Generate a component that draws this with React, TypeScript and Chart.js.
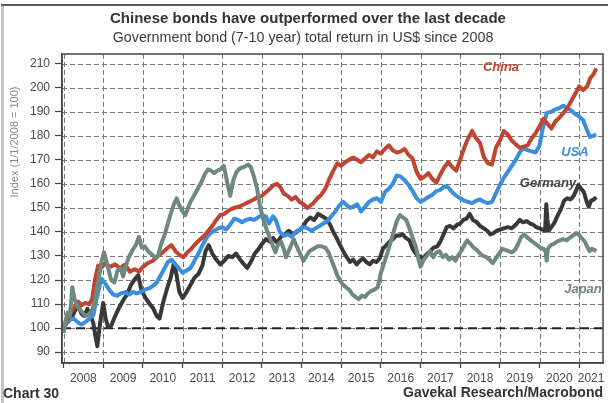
import { useEffect, useRef } from 'react';
import { Chart, registerables } from 'chart.js';

Chart.register(...registerables);

const W = 608;
const H = 403;

const yTicks = [90, 100, 110, 120, 130, 140, 150, 160, 170, 180, 190, 200, 210];
const yearTicks = [2008, 2009, 2010, 2011, 2012, 2013, 2014, 2015, 2016, 2017, 2018, 2019, 2020, 2021];
const yearLabelPos = [2008.5, 2009.5, 2010.5, 2011.5, 2012.5, 2013.5, 2014.5, 2015.5, 2016.5, 2017.5, 2018.5, 2019.5, 2020.5, 2021.3];

const baselinePoints: [number, number][] = [[2007.96, 100], [2021.6, 100]];

const chinaPoints: [number, number][] = [
  [2008.0, 100], [2008.08, 103], [2008.15, 106], [2008.25, 108], [2008.37, 111], [2008.45, 109.5], [2008.55, 110.5],
  [2008.65, 110], [2008.72, 112], [2008.79, 120], [2008.87, 126], [2008.95, 125], [2009.05, 127], [2009.17, 125.5],
  [2009.3, 126.5], [2009.42, 125], [2009.55, 126.5], [2009.67, 123.5], [2009.8, 124.5], [2009.9, 123.5], [2010.0, 125.5],
  [2010.12, 127], [2010.25, 128], [2010.38, 130], [2010.5, 131.5], [2010.6, 133], [2010.72, 134.5], [2010.82, 132],
  [2010.92, 130.5], [2011.02, 129.5], [2011.12, 131.5], [2011.22, 133], [2011.35, 135.5], [2011.45, 137], [2011.55, 138.5],
  [2011.65, 140.5], [2011.75, 142.5], [2011.85, 145], [2011.95, 147], [2012.05, 147.5], [2012.17, 149], [2012.3, 150],
  [2012.42, 150.5], [2012.55, 151.5], [2012.67, 152.5], [2012.8, 153.5], [2012.9, 154.5], [2013.0, 155], [2013.1, 156.5],
  [2013.2, 158], [2013.3, 159.5], [2013.38, 160], [2013.47, 158.5], [2013.55, 156], [2013.65, 155], [2013.75, 153.5],
  [2013.85, 154.5], [2013.95, 152.5], [2014.05, 151.5], [2014.15, 150], [2014.22, 151], [2014.3, 152], [2014.4, 154],
  [2014.5, 155.5], [2014.6, 158], [2014.7, 162], [2014.8, 165.5], [2014.9, 168.5], [2015.0, 167.5], [2015.1, 169],
  [2015.2, 170], [2015.3, 171], [2015.4, 170], [2015.5, 169], [2015.6, 170.5], [2015.7, 172], [2015.8, 171],
  [2015.9, 173.5], [2016.0, 172.5], [2016.1, 174.5], [2016.2, 176], [2016.3, 174], [2016.4, 173], [2016.5, 173.5],
  [2016.6, 174.5], [2016.7, 172], [2016.8, 170.5], [2016.9, 165], [2017.0, 162], [2017.1, 163], [2017.2, 164.5],
  [2017.3, 162], [2017.4, 160.5], [2017.5, 164], [2017.6, 167], [2017.7, 169], [2017.8, 167], [2017.9, 165.5],
  [2018.0, 170], [2018.1, 175], [2018.2, 179], [2018.3, 182], [2018.4, 179], [2018.5, 177], [2018.6, 171],
  [2018.7, 168.5], [2018.8, 168], [2018.9, 175], [2019.0, 178], [2019.1, 182], [2019.2, 180.5], [2019.3, 178],
  [2019.4, 176.5], [2019.5, 175], [2019.6, 175.5], [2019.7, 176], [2019.8, 179], [2019.9, 181], [2020.0, 184],
  [2020.1, 187], [2020.2, 185], [2020.3, 183], [2020.4, 186], [2020.5, 187.5], [2020.6, 189.5], [2020.7, 191.5],
  [2020.8, 194.5], [2020.9, 197.5], [2021.0, 200.5], [2021.1, 199], [2021.2, 200.5], [2021.28, 204], [2021.36, 205.5],
  [2021.43, 208],
];

const usaPoints: [number, number][] = [
  [2008.0, 100], [2008.08, 102], [2008.17, 103.5], [2008.25, 104], [2008.35, 102.5], [2008.45, 101.5], [2008.55, 102.5],
  [2008.65, 104], [2008.75, 105.5], [2008.83, 112], [2008.9, 117], [2008.96, 120.5], [2009.05, 118.5], [2009.15, 116],
  [2009.25, 114], [2009.35, 113.5], [2009.45, 114.5], [2009.55, 115], [2009.65, 114], [2009.75, 115], [2009.85, 114.5],
  [2009.95, 115], [2010.05, 116], [2010.15, 116.5], [2010.25, 117.5], [2010.35, 119], [2010.45, 122], [2010.55, 125],
  [2010.63, 127.5], [2010.72, 128.5], [2010.8, 127], [2010.9, 125], [2011.0, 123], [2011.1, 124], [2011.2, 125],
  [2011.3, 128], [2011.4, 131], [2011.5, 134.5], [2011.6, 137.5], [2011.7, 139.5], [2011.8, 140.5], [2011.9, 141.5],
  [2012.0, 142], [2012.1, 141], [2012.2, 143], [2012.3, 145.5], [2012.4, 145], [2012.5, 144], [2012.6, 145],
  [2012.7, 145.5], [2012.8, 145], [2012.9, 146], [2013.0, 147], [2013.1, 146.5], [2013.18, 143.5], [2013.28, 146.5],
  [2013.35, 145], [2013.45, 140], [2013.55, 138.5], [2013.65, 139], [2013.75, 138], [2013.85, 140], [2013.95, 141],
  [2014.05, 142], [2014.15, 141.5], [2014.25, 140.5], [2014.35, 141.5], [2014.45, 142.5], [2014.55, 143.5], [2014.65, 144.5],
  [2014.75, 146.5], [2014.85, 148.5], [2014.95, 151], [2015.05, 152.5], [2015.15, 151], [2015.22, 150], [2015.3, 150.5],
  [2015.4, 151.5], [2015.5, 148.5], [2015.6, 150.5], [2015.7, 152.5], [2015.8, 153.5], [2015.9, 154], [2016.0, 152.5],
  [2016.1, 156.5], [2016.2, 158], [2016.3, 160], [2016.4, 163.5], [2016.5, 163], [2016.6, 161.5], [2016.7, 159.5],
  [2016.8, 157], [2016.9, 154], [2017.0, 152.5], [2017.1, 153.5], [2017.2, 154.5], [2017.3, 155.5], [2017.4, 157],
  [2017.5, 157.5], [2017.6, 159], [2017.7, 158.5], [2017.8, 156.5], [2017.9, 155], [2018.0, 154], [2018.1, 153],
  [2018.2, 152.5], [2018.3, 152], [2018.4, 153], [2018.5, 153.5], [2018.6, 152.5], [2018.7, 152], [2018.8, 152.5],
  [2018.9, 156], [2019.0, 159.5], [2019.1, 162.5], [2019.2, 165], [2019.3, 167.5], [2019.4, 170], [2019.5, 173],
  [2019.6, 175], [2019.7, 174], [2019.8, 173.5], [2019.9, 173], [2020.0, 176], [2020.08, 183], [2020.18, 189.5],
  [2020.3, 190], [2020.4, 191], [2020.5, 191.5], [2020.6, 192.5], [2020.7, 191.5], [2020.8, 190.5], [2020.9, 189],
  [2021.0, 188], [2021.1, 186.5], [2021.18, 183], [2021.27, 179.5], [2021.35, 180], [2021.43, 180.5],
];

const germanyPoints: [number, number][] = [
  [2008.0, 99], [2008.06, 103], [2008.12, 105.5], [2008.2, 104], [2008.28, 107], [2008.37, 109.5], [2008.45, 106],
  [2008.52, 105], [2008.6, 108], [2008.68, 105.5], [2008.75, 102], [2008.8, 97], [2008.85, 92.5], [2008.92, 102],
  [2009.0, 110.5], [2009.06, 104], [2009.12, 100.5], [2009.2, 101], [2009.3, 105], [2009.4, 108.5], [2009.5, 111.5],
  [2009.6, 114], [2009.7, 118], [2009.8, 120.5], [2009.88, 122], [2009.96, 116], [2010.05, 113], [2010.15, 110.5],
  [2010.25, 108.5], [2010.35, 105], [2010.42, 104], [2010.5, 110], [2010.6, 116], [2010.7, 121], [2010.78, 127],
  [2010.85, 122], [2010.92, 115], [2011.0, 112.5], [2011.1, 115], [2011.2, 118], [2011.3, 121], [2011.4, 122.5],
  [2011.5, 126], [2011.58, 132], [2011.66, 134.5], [2011.75, 131], [2011.85, 128.5], [2011.95, 126.5], [2012.05, 128],
  [2012.15, 130], [2012.25, 129.5], [2012.35, 131], [2012.45, 128.5], [2012.55, 126.5], [2012.63, 125], [2012.72, 127.5],
  [2012.82, 131], [2012.92, 133], [2013.0, 135], [2013.1, 137], [2013.2, 136], [2013.28, 137.5], [2013.38, 135.5],
  [2013.48, 138], [2013.58, 139], [2013.68, 140.5], [2013.78, 139], [2013.88, 140], [2013.96, 141], [2014.05, 142.5],
  [2014.12, 144.5], [2014.22, 146], [2014.32, 145], [2014.42, 147.5], [2014.52, 146.5], [2014.62, 145.5], [2014.72, 143],
  [2014.8, 140], [2014.9, 137], [2014.97, 134.5], [2015.05, 132], [2015.12, 130], [2015.22, 127.5], [2015.3, 128.5],
  [2015.39, 126.5], [2015.47, 128], [2015.55, 129], [2015.63, 127.5], [2015.72, 126.5], [2015.8, 128], [2015.89, 127.5],
  [2015.97, 129], [2016.05, 133], [2016.14, 134.5], [2016.22, 136], [2016.3, 137], [2016.39, 138.5], [2016.47, 138.5],
  [2016.55, 139], [2016.63, 137.5], [2016.72, 136.5], [2016.8, 133], [2016.88, 131], [2016.96, 130], [2017.05, 129],
  [2017.14, 130.5], [2017.24, 132], [2017.33, 133.5], [2017.42, 134], [2017.5, 136], [2017.58, 139], [2017.66, 142],
  [2017.74, 142.5], [2017.83, 141.5], [2017.92, 143], [2018.0, 143.5], [2018.08, 145], [2018.16, 145.5], [2018.24, 147.5],
  [2018.32, 145], [2018.42, 144], [2018.5, 142.5], [2018.6, 141.5], [2018.68, 140.5], [2018.76, 139], [2018.84, 139.5],
  [2018.92, 140.5], [2019.0, 141], [2019.1, 141.5], [2019.2, 142], [2019.3, 141.5], [2019.4, 143], [2019.5, 145],
  [2019.58, 144], [2019.68, 144.5], [2019.76, 143.5], [2019.84, 143], [2019.92, 142], [2020.0, 141.5], [2020.08, 141],
  [2020.14, 140.5], [2020.17, 151.5], [2020.2, 145], [2020.23, 140.5], [2020.3, 142], [2020.38, 144], [2020.46, 147],
  [2020.54, 149.5], [2020.62, 153], [2020.7, 154], [2020.78, 153.5], [2020.86, 155], [2020.93, 157.5], [2020.98, 159.5],
  [2021.05, 158], [2021.12, 156.5], [2021.18, 153], [2021.24, 150.5], [2021.3, 153], [2021.37, 153.5], [2021.43, 154.5],
];

const japanPoints: [number, number][] = [
  [2008.0, 98], [2008.05, 103], [2008.1, 106.5], [2008.16, 105], [2008.22, 117], [2008.28, 112], [2008.35, 109],
  [2008.45, 107], [2008.55, 105], [2008.65, 106], [2008.72, 107.5], [2008.8, 112], [2008.88, 120], [2008.96, 128],
  [2009.02, 131.5], [2009.1, 126.5], [2009.2, 120], [2009.28, 119], [2009.36, 124], [2009.44, 125], [2009.5, 121.5],
  [2009.58, 126.5], [2009.66, 130], [2009.74, 132.5], [2009.82, 134.5], [2009.9, 138], [2009.97, 133.5], [2010.05, 134],
  [2010.13, 132], [2010.2, 131], [2010.3, 129.5], [2010.38, 130], [2010.45, 134.5], [2010.55, 139], [2010.62, 143],
  [2010.7, 147.5], [2010.78, 151.5], [2010.85, 154], [2010.92, 151], [2011.0, 148.5], [2011.07, 147], [2011.14, 150],
  [2011.2, 152.5], [2011.3, 155.5], [2011.4, 158.5], [2011.48, 161], [2011.56, 164], [2011.64, 166], [2011.72, 165.5],
  [2011.8, 164.5], [2011.88, 165.5], [2011.95, 166], [2012.04, 167.5], [2012.12, 161], [2012.2, 155], [2012.28, 161.5],
  [2012.36, 165], [2012.45, 166.5], [2012.55, 167], [2012.65, 168], [2012.72, 167], [2012.8, 163], [2012.88, 158],
  [2012.96, 150], [2013.04, 145], [2013.12, 141], [2013.2, 137.5], [2013.28, 134], [2013.34, 131.5], [2013.4, 134.5],
  [2013.48, 136], [2013.55, 133], [2013.61, 129.5], [2013.7, 133], [2013.8, 137], [2013.88, 134], [2013.96, 131],
  [2014.05, 128], [2014.12, 130], [2014.2, 132], [2014.3, 133], [2014.4, 134], [2014.5, 134], [2014.6, 133.5],
  [2014.68, 131.5], [2014.75, 128.5], [2014.82, 125.5], [2014.9, 122], [2014.98, 119.5], [2015.05, 118], [2015.12, 117],
  [2015.2, 116], [2015.28, 114], [2015.36, 113], [2015.44, 112], [2015.52, 113.5], [2015.6, 113], [2015.68, 114.5],
  [2015.76, 115.5], [2015.84, 116], [2015.92, 117], [2016.0, 123], [2016.08, 127], [2016.16, 131], [2016.24, 135.5],
  [2016.32, 140], [2016.4, 144.5], [2016.48, 147], [2016.56, 146], [2016.64, 145], [2016.72, 141.5], [2016.8, 137.5],
  [2016.88, 134], [2016.95, 128.5], [2017.0, 125.5], [2017.08, 128.5], [2017.16, 130], [2017.24, 132], [2017.32, 129.5],
  [2017.4, 131.5], [2017.48, 132], [2017.56, 129.5], [2017.64, 130.5], [2017.72, 128.5], [2017.8, 129.5], [2017.88, 128],
  [2017.96, 130.5], [2018.04, 132.5], [2018.12, 135], [2018.18, 136.5], [2018.26, 135], [2018.34, 133.5], [2018.42, 132.5],
  [2018.5, 131], [2018.58, 130], [2018.66, 129.5], [2018.74, 128.5], [2018.82, 127], [2018.9, 129], [2018.98, 131],
  [2019.06, 133], [2019.14, 132.5], [2019.22, 132], [2019.3, 131.5], [2019.38, 132.5], [2019.46, 135], [2019.54, 138],
  [2019.62, 139], [2019.7, 137.5], [2019.78, 136.5], [2019.86, 135.5], [2019.94, 134.5], [2020.02, 133.5], [2020.1, 133],
  [2020.15, 132], [2020.18, 128], [2020.21, 133], [2020.28, 134.5], [2020.36, 135], [2020.44, 136], [2020.52, 136.5],
  [2020.6, 137], [2020.68, 136.5], [2020.76, 137.5], [2020.84, 138.5], [2020.92, 139.5], [2020.98, 139], [2021.06, 137.5],
  [2021.14, 136], [2021.2, 134], [2021.26, 132], [2021.32, 133], [2021.38, 132.5], [2021.43, 132],
];

const COLORS = {
  china: '#c0442f',
  usa: '#3a8ddf',
  germany: '#383838',
  japan: '#6e8a7f',
};

const NARROW = "'Liberation Sans Narrow', 'Arial Narrow', 'Liberation Sans', Arial, sans-serif";
const SANS = "'Liberation Sans', Arial, sans-serif";

const toXY = (pts: [number, number][]) => pts.map(([x, y]) => ({ x, y }));

const decorPlugin = {
  id: 'decor',
  beforeDraw(chart: any) {
    const ctx = chart.ctx as CanvasRenderingContext2D;
    ctx.save();
    ctx.fillStyle = '#ffffff';
    ctx.fillRect(0, 0, W, H);
    ctx.strokeStyle = '#c4c4c4';
    ctx.lineWidth = 3;
    ctx.beginPath();
    ctx.moveTo(2.5, 4);
    ctx.lineTo(2.5, H);
    ctx.stroke();
    ctx.strokeStyle = '#5a5a5a';
    ctx.lineWidth = 2;
    ctx.beginPath();
    ctx.moveTo(1, 5);
    ctx.lineTo(W, 5);
    ctx.stroke();
    ctx.restore();
  },
  beforeDatasetsDraw(chart: any) {
    const ctx = chart.ctx as CanvasRenderingContext2D;
    const a = chart.chartArea;
    const xs = chart.scales.x;
    const ys = chart.scales.y;
    ctx.save();
    ctx.strokeStyle = '#777';
    ctx.lineWidth = 1;
    ctx.setLineDash([5, 3]);
    for (const v of yTicks) {
      const py = Math.round(ys.getPixelForValue(v)) + 0.5;
      ctx.beginPath();
      ctx.moveTo(a.left, py);
      ctx.lineTo(a.right, py);
      ctx.stroke();
    }
    for (const v of yearTicks) {
      const px = Math.round(xs.getPixelForValue(v)) + 0.5;
      ctx.beginPath();
      ctx.moveTo(px, a.top);
      ctx.lineTo(px, a.bottom);
      ctx.stroke();
    }
    ctx.restore();
  },
  afterDraw(chart: any) {
    const ctx = chart.ctx as CanvasRenderingContext2D;
    const a = chart.chartArea;
    ctx.save();
    ctx.strokeStyle = '#444';
    ctx.lineWidth = 1.5;
    ctx.strokeRect(a.left, a.top, a.right - a.left, a.bottom - a.top);

    ctx.textAlign = 'center';
    ctx.textBaseline = 'middle';
    ctx.fillStyle = '#333';
    ctx.font = `bold 15px ${SANS}`;
    ctx.fillText('Chinese bonds have outperformed over the last decade', 308, 19);
    ctx.fillStyle = '#3a3a3a';
    ctx.font = `14.3px ${NARROW}`;
    ctx.fillText('Government bond (7-10 year) total return in US$ since 2008', 303, 38);

    ctx.save();
    ctx.translate(15, 142);
    ctx.rotate(-Math.PI / 2);
    ctx.fillStyle = '#888';
    ctx.font = `11px ${NARROW}`;
    ctx.fillText('Index (1/1/2008 = 100)', 0, 0);
    ctx.restore();

    ctx.font = `italic bold 13px ${NARROW}`;
    ctx.fillStyle = COLORS.china;
    ctx.fillText('China', 501, 67);
    ctx.fillStyle = COLORS.usa;
    ctx.fillText('USA', 575, 152);
    ctx.fillStyle = '#444';
    ctx.fillText('Germany', 548, 183);
    ctx.fillStyle = COLORS.japan;
    ctx.fillText('Japan', 583, 289);

    ctx.fillStyle = '#333';
    ctx.font = `bold 14px ${NARROW}`;
    ctx.textAlign = 'left';
    ctx.fillText('Chart 30', 3, 394);
    ctx.textAlign = 'right';
    ctx.fillText('Gavekal Research/Macrobond', 603, 393);
    ctx.restore();
  },
};

export default function App() {
  const ref = useRef<HTMLCanvasElement | null>(null);

  useEffect(() => {
    if (!ref.current) return;
    const lineDs = (label: string, pts: [number, number][], color: string) => ({
      label,
      data: toXY(pts),
      borderColor: color,
      backgroundColor: color,
      borderWidth: 4,
      pointRadius: 0,
      tension: 0,
      borderJoinStyle: 'round' as const,
      xAxisID: 'x',
      yAxisID: 'y',
    });

    const chart = new Chart(ref.current, {
      type: 'line',
      data: {
        datasets: [
          lineDs('Japan', japanPoints, COLORS.japan),
          lineDs('China', chinaPoints, COLORS.china),
          lineDs('USA', usaPoints, COLORS.usa),
          lineDs('Germany', germanyPoints, COLORS.germany),
          {
            label: 'Base',
            data: toXY(baselinePoints),
            borderColor: '#222',
            borderWidth: 2,
            borderDash: [9, 5],
            pointRadius: 0,
            xAxisID: 'x',
            yAxisID: 'y',
          },
        ],
      },
      options: {
        responsive: false,
        animation: false,
        devicePixelRatio: 1,
        layout: { padding: { left: 0, right: 5, top: 54, bottom: 16 } },
        plugins: {
          legend: { display: false },
          tooltip: { enabled: false },
          title: { display: false },
        },
        scales: {
          x: {
            type: 'linear',
            position: 'bottom',
            weight: 0,
            min: 2007.96,
            max: 2021.6,
            afterBuildTicks: (s: any) => {
              s.ticks = yearTicks.map((v) => ({ value: v }));
            },
            afterFit: (s: any) => {
              s.height = 6;
            },
            ticks: { display: false },
            grid: {
              color: 'rgba(0,0,0,0)',
              lineWidth: 1,
              tickLength: 5,
              tickColor: '#444',
              tickWidth: 1.2,
            },
            border: { display: true, color: '#444', width: 1.5 },
          },
          x2: {
            type: 'linear',
            position: 'bottom',
            weight: 1,
            min: 2007.96,
            max: 2021.6,
            afterBuildTicks: (s: any) => {
              s.ticks = yearLabelPos.map((v) => ({ value: v }));
            },
            afterFit: (s: any) => {
              s.height = 18;
            },
            ticks: {
              autoSkip: false,
              maxRotation: 0,
              padding: 2,
              color: '#4a4a4a',
              font: { size: 12, family: NARROW },
              callback: (v: any) => String(Math.floor(Number(v))),
            },
            grid: { display: false, drawTicks: false },
            border: { display: false },
          },
          y: {
            type: 'linear',
            min: 85.5,
            max: 214,
            afterBuildTicks: (s: any) => {
              s.ticks = yTicks.map((v) => ({ value: v }));
            },
            afterFit: (s: any) => {
              s.width = 62;
            },
            ticks: {
              autoSkip: false,
              padding: 5,
              color: '#4a4a4a',
              font: { size: 12, family: NARROW },
              callback: (v: any) => String(v),
            },
            grid: {
              color: 'rgba(0,0,0,0)',
              lineWidth: 1,
              tickLength: 7,
              tickColor: '#444',
              tickWidth: 1.2,
            },
            border: { display: true, color: '#444', width: 1.5 },
          },
        },
      },
      plugins: [decorPlugin],
    });
    return () => chart.destroy();
  }, []);

  return (
    <div style={{ position: 'fixed', left: 0, top: 0, width: W, height: H, background: '#fff' }}>
      <canvas ref={ref} width={W} height={H} style={{ width: W, height: H, display: 'block' }} />
    </div>
  );
}
